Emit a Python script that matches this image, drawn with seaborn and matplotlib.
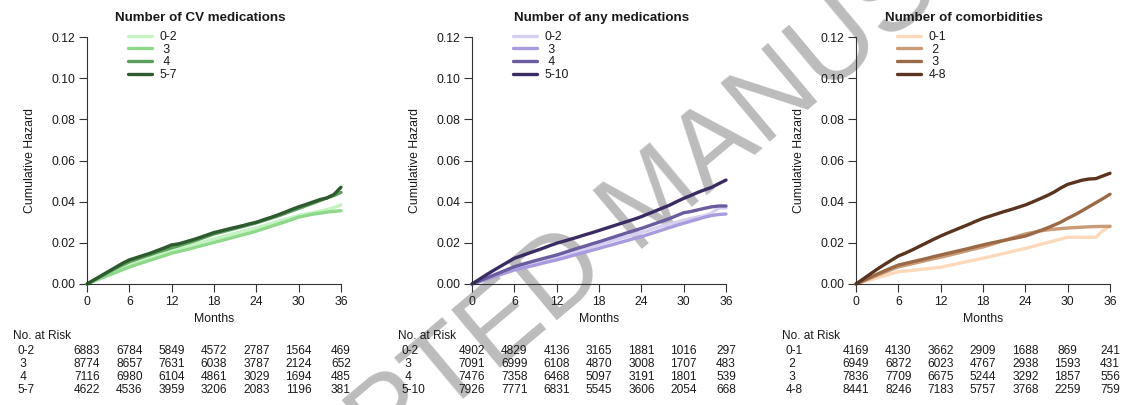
import numpy as np
import pandas as pd
import matplotlib
matplotlib.use("Agg")
import matplotlib.pyplot as plt
import matplotlib.transforms as mtransforms
from matplotlib.ticker import FormatStrFormatter
import seaborn as sns

# ===============================
# DATA
# ===============================
months = list(range(37))
risk_times = [0, 6, 12, 18, 24, 30, 36]

# --- Panel 1: number of CV medications
cv_groups = ["0-2", "3", "4", "5-7"]
cv_02 = [0, .0017, .0034, .0050, .0066, .0081, .0096, .0108, .0120, .0131, .0143, .0154, .0165,
         .0174, .0183, .0192, .0201, .0210, .0219, .0228, .0237, .0246, .0255, .0264, .0273,
         .0283, .0293, .0303, .0313, .0323, .0333, .0340, .0347, .0354, .0361, .0370, .0385]
cv_3 = [0, .0014, .0028, .0042, .0055, .0069, .0082, .0094, .0105, .0116, .0127, .0138, .0150,
        .0158, .0166, .0175, .0184, .0193, .0202, .0211, .0220, .0229, .0238, .0247, .0257,
        .0268, .0279, .0290, .0301, .0313, .0325, .0332, .0339, .0344, .0349, .0353, .0356]
cv_4 = [0, .0019, .0038, .0057, .0075, .0092, .0108, .0120, .0132, .0143, .0155, .0165, .0176,
        .0186, .0197, .0207, .0219, .0231, .0243, .0252, .0261, .0270, .0279, .0288, .0297,
        .0308, .0319, .0330, .0342, .0355, .0367, .0380, .0392, .0405, .0418, .0430, .0445]
cv_57 = [0, .0020, .0040, .0060, .0080, .0100, .0117, .0128, .0139, .0150, .0163, .0176, .0190,
         .0195, .0205, .0215, .0226, .0238, .0250, .0258, .0267, .0275, .0283, .0292, .0300,
         .0312, .0323, .0335, .0348, .0362, .0375, .0386, .0398, .0410, .0418, .0435, .0470]
cv_risk = [[6883, 6784, 5849, 4572, 2787, 1564, 469],
           [8774, 8657, 7631, 6038, 3787, 2124, 652],
           [7116, 6980, 6104, 4861, 3029, 1694, 485],
           [4622, 4536, 3959, 3206, 2083, 1196, 381]]

# --- Panel 2: number of any medications
any_groups = ["0-2", "3", "4", "5-10"]
any_02 = [0, .0012, .0025, .0037, .0049, .0061, .0073, .0082, .0092, .0102, .0111, .0121, .0130,
          .0140, .0150, .0160, .0170, .0181, .0191, .0201, .0211, .0221, .0230, .0240, .0250,
          .0261, .0272, .0283, .0292, .0300, .0310, .0318, .0325, .0332, .0345, .0370, .0370]
any_3 = [0, .0011, .0022, .0034, .0045, .0057, .0068, .0076, .0084, .0092, .0101, .0109, .0117,
         .0126, .0136, .0145, .0154, .0164, .0173, .0183, .0192, .0202, .0211, .0221, .0230,
         .0241, .0252, .0263, .0274, .0285, .0295, .0305, .0315, .0325, .0333, .0338, .0340]
any_4 = [0, .0014, .0028, .0042, .0056, .0070, .0084, .0094, .0104, .0114, .0123, .0132, .0141,
         .0152, .0163, .0174, .0184, .0195, .0205, .0216, .0227, .0238, .0249, .0260, .0270,
         .0282, .0294, .0306, .0318, .0332, .0346, .0352, .0360, .0368, .0375, .0379, .0379]
any_510 = [0, .0022, .0044, .0065, .0085, .0105, .0125, .0137, .0149, .0161, .0173, .0186, .0198,
           .0208, .0218, .0228, .0239, .0249, .0260, .0271, .0282, .0293, .0304, .0315, .0327,
           .0341, .0355, .0369, .0383, .0400, .0416, .0430, .0445, .0458, .0470, .0488, .0505]
any_risk = [[4902, 4829, 4136, 3165, 1881, 1016, 297],
            [7091, 6999, 6108, 4870, 3008, 1707, 483],
            [7476, 7358, 6468, 5097, 3191, 1801, 539],
            [7926, 7771, 6831, 5545, 3606, 2054, 668]]

# --- Panel 3: number of comorbidities
com_groups = ["0-1", "2", "3", "4-8"]
com_01 = [0, .0010, .0020, .0030, .0040, .0050, .0060, .0063, .0066, .0070, .0074, .0078, .0081,
          .0089, .0096, .0104, .0111, .0118, .0125, .0133, .0141, .0149, .0157, .0165, .0173,
          .0182, .0191, .0200, .0209, .0218, .0227, .0227, .0227, .0227, .0227, .0260, .0280]
com_2 = [0, .0014, .0028, .0042, .0056, .0070, .0083, .0091, .0099, .0107, .0115, .0123, .0130,
         .0138, .0147, .0155, .0164, .0172, .0180, .0190, .0201, .0212, .0222, .0233, .0243,
         .0250, .0257, .0262, .0266, .0269, .0272, .0274, .0276, .0278, .0279, .0280, .0280]
com_3 = [0, .0016, .0032, .0048, .0063, .0078, .0092, .0100, .0108, .0116, .0124, .0133, .0141,
         .0149, .0157, .0165, .0173, .0182, .0190, .0198, .0205, .0212, .0219, .0226, .0233,
         .0245, .0258, .0271, .0285, .0300, .0319, .0336, .0355, .0375, .0395, .0415, .0436]
com_48 = [0, .0024, .0048, .0072, .0094, .0115, .0136, .0150, .0166, .0183, .0200, .0217, .0233,
          .0248, .0262, .0276, .0290, .0305, .0319, .0330, .0341, .0352, .0362, .0373, .0384,
          .0398, .0413, .0428, .0445, .0466, .0484, .0494, .0504, .0510, .0512, .0525, .0538]
com_risk = [[4169, 4130, 3662, 2909, 1688, 869, 241],
            [6949, 6872, 6023, 4767, 2938, 1593, 431],
            [7836, 7709, 6675, 5244, 3292, 1857, 556],
            [8441, 8246, 7183, 5757, 3768, 2259, 759]]

panels = [
    ("Number of CV medications", cv_groups, [cv_02, cv_3, cv_4, cv_57], cv_risk,
     ["#c4f3c2", "#8ed88a", "#5c9e5c", "#2e5a2f"]),
    ("Number of any medications", any_groups, [any_02, any_3, any_4, any_510], any_risk,
     ["#d6d1f3", "#a99bdd", "#6b5b9f", "#3a2c62"]),
    ("Number of comorbidities", com_groups, [com_01, com_2, com_3, com_48], com_risk,
     ["#fdd9bb", "#c99b76", "#9a6946", "#5a341f"]),
]

# ===============================
# STYLE
# ===============================
sns.set_theme(style="ticks")
plt.rcParams["font.family"] = ["Liberation Sans", "DejaVu Sans"]
plt.rcParams["font.size"] = 8.8
TXT = "#1a1a1a"

W, H = 1131, 405
fig = plt.figure(figsize=(W / 100, H / 100), dpi=100)

# watermark behind everything
fig.text(655 / W, 1 - 200 / H, "ACCEPTED MANUSCRIPT", fontsize=80, color="#bcbcbc",
         rotation=40, ha="center", va="center", rotation_mode="anchor", zorder=-1)

ax_left_px = [87, 472, 856]
title_cx = [200, 602, 964]
ax_w_px = 254
ax_top_px, ax_bot_px = 37, 284

row_y_px = [351, 364, 377, 390]

for i, (title, groups, series, risk, colors) in enumerate(panels):
    left = ax_left_px[i]
    ax = fig.add_axes([left / W, 1 - ax_bot_px / H, ax_w_px / W, (ax_bot_px - ax_top_px) / H])
    ax.set_facecolor("none")

    df = pd.concat([pd.DataFrame({"Months": months, "hazard": s, "group": g})
                    for g, s in zip(groups, series)], ignore_index=True)
    sns.lineplot(data=df, x="Months", y="hazard", hue="group", hue_order=groups,
                 palette=colors, estimator=None, errorbar=None,
                 linewidth=2.4, legend=False, ax=ax, clip_on=False)

    ax.set_xlim(0, 36)
    ax.set_ylim(0, 0.12)
    ax.set_xticks(risk_times)
    ax.set_yticks(np.arange(0, 0.121, 0.02))
    ax.yaxis.set_major_formatter(FormatStrFormatter("%.2f"))
    sns.despine(ax=ax)
    for sp in ["left", "bottom"]:
        ax.spines[sp].set_linewidth(0.8)
        ax.spines[sp].set_color("#333333")
    ax.tick_params(direction="out", length=5.5, width=0.8, pad=3, labelsize=8.8,
                   colors="#333333", labelcolor=TXT)

    ax.set_xlabel("Months", fontsize=8.8, color=TXT)
    ax.xaxis.set_label_coords(0.5, -0.118)
    ax.set_ylabel("Cumulative Hazard", fontsize=8.8, color=TXT)
    ax.yaxis.set_label_coords(-51 / ax_w_px, 0.5)

    # legend
    labels = [g if len(g) > 1 else " " + g for g in groups]
    ax.legend(ax.lines[:len(groups)], labels, frameon=False, fontsize=8.8,
              loc="upper left", bbox_to_anchor=((left + 41) / W, 1 - 31 / H),
              bbox_transform=fig.transFigure, borderpad=0, borderaxespad=0,
              handlelength=1.95, handletextpad=0.65, labelspacing=0.05,
              labelcolor=TXT)

    # title
    fig.text(title_cx[i] / W, 1 - 18 / H, title, fontsize=9.6, fontweight="bold",
             ha="center", va="center", color=TXT)

    # number at risk table
    fig.text((left - 74) / W, 1 - 336 / H, "No. at Risk", fontsize=8.6,
             ha="left", va="center", color=TXT)
    trans = mtransforms.blended_transform_factory(ax.transData, fig.transFigure)
    for r, (lab, counts) in enumerate(zip(labels, risk)):
        fig.text((left - 70) / W, 1 - row_y_px[r] / H, lab, fontsize=8.6,
                 ha="left", va="center", color=TXT)
        for t, n in zip(risk_times, counts):
            ax.text(t, 1 - row_y_px[r] / H, str(n), transform=trans, fontsize=8.6,
                    ha="center", va="center", color=TXT, clip_on=False)

fig.savefig("out.png", dpi=100)
